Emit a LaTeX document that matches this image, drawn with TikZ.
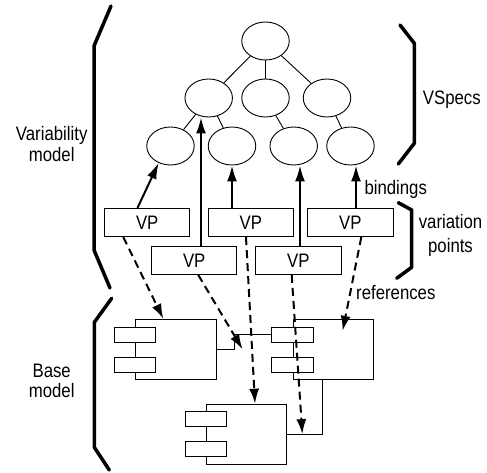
\documentclass[tikz,border=0pt]{standalone}
\usepackage{fontspec}
\setmainfont[FakeStretch=0.86]{Liberation Sans}
\usetikzlibrary{arrows.meta,shapes.geometric}

\begin{document}
\begin{tikzpicture}[x=1pt,y=-1pt,
  every node/.style={font=\fontsize{19.5}{23}\selectfont},
  vspec/.style={draw, ellipse, line width=0.9pt, minimum width=47.5pt, minimum height=38pt, inner sep=0pt},
  vpbox/.style={draw, rectangle, line width=0.9pt, minimum width=85.3pt, minimum height=28.3pt, inner sep=0pt},
  compbox/.style={draw, fill=white, line width=0.9pt, minimum width=80.5pt, minimum height=60pt, inner sep=0pt},
  portbox/.style={draw, fill=white, line width=0.9pt, minimum width=41.7pt, minimum height=14.7pt, inner sep=0pt},
  tree/.style={line width=0.9pt},
  wire/.style={line width=0.9pt},
  bind/.style={line width=2pt, -{Latex[length=16pt,width=10pt]}},
  ref/.style={line width=2pt, dash pattern=on 8pt off 5pt, -{Latex[length=15pt,width=10pt]}},
  brace/.style={line width=3.5pt, line cap=round, line join=round},
  lbl/.style={inner sep=0pt, anchor=base}
]
\fill[white] (0,0) rectangle (487,473);
\useasboundingbox (0,0) rectangle (487,473);

% feature tree (VSpecs)
\node[vspec] (root) at (265.5,41) {};
\node[vspec] (m1) at (208.7,98) {};
\node[vspec] (m2) at (265.5,98) {};
\node[vspec] (m3) at (327,98) {};
\node[vspec] (f1) at (170.5,146) {};
\node[vspec] (f2) at (232,146) {};
\node[vspec] (f3) at (293.7,146) {};
\node[vspec] (f4) at (350.5,146) {};
\draw[tree] (root) -- (m1);
\draw[tree] (root) -- (m2);
\draw[tree] (root) -- (m3);
\draw[tree] (m1) -- (f1);
\draw[tree] (m1) -- (f2);
\draw[tree] (m2) -- (f3);
\draw[tree] (m3) -- (f4);

% variation points
\node[vpbox] (p1) at (147.2,222.5) {VP};
\node[vpbox] (p2) at (250.8,222.5) {VP};
\node[vpbox] (p3) at (350.3,222.5) {VP};
\node[vpbox] (p4) at (194.2,260.3) {VP};
\node[vpbox] (p5) at (298.3,260.3) {VP};

% bindings
\draw[bind] ([xshift=-9.7pt]p1.north) -- (f1.235);
\draw[bind] ([xshift=6.8pt]p4.north) -- ([xshift=6.8pt]p4.north |- m1.south);
\draw[bind] (p2.north -| f2.south) -- (f2.south);
\draw[bind] ([xshift=1.7pt]p5.north) -- ([xshift=1.7pt]p5.north |- f3.south);
\draw[bind] ([xshift=5.7pt]p3.north) -- ([xshift=5.7pt]p3.north |- f4.south);

% base model components
\node[compbox] (c1) at (175.85,349.3) {};
\node[portbox] (c1a) at (134.85,334.65) {};
\node[portbox] (c1b) at (134.85,364.8) {};
\node[compbox] (c2) at (333.65,349.3) {};
\node[portbox] (c2a) at (292.5,334.65) {};
\node[portbox] (c2b) at (292.5,364.8) {};
\node[compbox] (c3) at (246.65,434.15) {};
\node[portbox] (c3a) at (205.85,419.2) {};
\node[portbox] (c3b) at (205.85,449.2) {};

% connections between components
\draw[wire] (c1.east) -- ++(18,0) coordinate (j1) |- (c2a.west);
\draw[wire] (c3.east) -| ([xshift=-11pt]c2.south);

% references
\draw[ref] ([xshift=-23.9pt]p1.south) -- ([xshift=-12.5pt]c1.north);
\draw[ref] ([xshift=4pt]p4.south) -- ([xshift=8pt]j1);
\draw[ref] ([xshift=-4.8pt]p2.south) -- ([xshift=8.35pt]c3.north);
\draw[ref] ([xshift=-6.6pt]p5.south) -- ([xshift=15pt]c3.east);
\draw[ref] ([xshift=11pt]p3.south) -- ([xshift=9pt,yshift=-12pt]c2.north);

% braces
\draw[brace] (111,6) -- (94,46) -- (94,250) -- (110,288);
\draw[brace] (111.7,298.3) -- (94.3,322.3) -- (94.3,447.3) -- (109.3,470);
\draw[brace] (400,25) -- (414.3,43.3) -- (414.3,143.3) -- (398.3,164);
\draw[brace] (398.3,202.7) -- (411.7,210) -- (411.7,267.3) -- (396.7,278.3);

% labels
\node[lbl] (tvar1) at (51.7,141) {Variability};
\node[lbl] (tvar2) at (51.7,162) {model};
\node[lbl] (tbase1) at (51.7,377) {Base};
\node[lbl] (tbase2) at (51.7,397) {model};
\node[lbl, anchor=base west] (tvs) at (422.7,105) {VSpecs};
\node[lbl, anchor=base west] (tbind) at (364.3,195) {bindings};
\node[lbl] (tvp1) at (450.5,228.3) {variation};
\node[lbl] (tvp2) at (450.5,252) {points};
\node[lbl, anchor=base west] (tref) at (356,299.3) {references};
\end{tikzpicture}
\end{document}
